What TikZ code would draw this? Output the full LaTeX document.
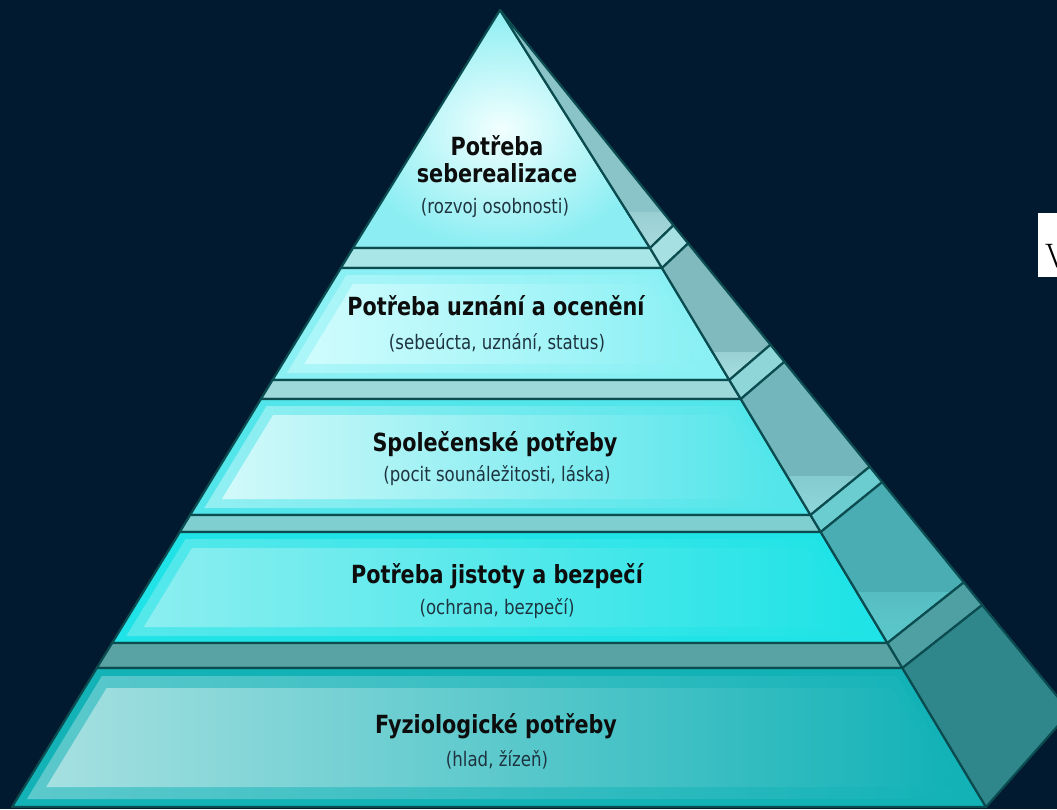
\documentclass[tikz,border=0pt]{standalone}
\usepackage{fontspec}
\newfontfamily\pyrfont{DejaVu Sans}[FakeStretch=0.83]

\definecolor{pozadi}{HTML}{021A2F}
\definecolor{obrys}{HTML}{0B4C50}
\definecolor{nadpiscol}{HTML}{0D0D0D}
\definecolor{popiscol}{HTML}{1E3440}
% celni steny
\definecolor{vrchol1}{HTML}{F2FFFF}
\definecolor{cela1}{HTML}{8CEEF2}
\definecolor{cela2}{HTML}{8AF0F4}
\definecolor{zare2}{HTML}{CFFCFD}
\definecolor{cela3}{HTML}{52E5EA}
\definecolor{zare3}{HTML}{D2F9FA}
\definecolor{cela4}{HTML}{1FE3E6}
\definecolor{zare4}{HTML}{8CEEF0}
\definecolor{cela5}{HTML}{12B2B7}
\definecolor{zare5}{HTML}{A6E0E1}
% rimsy
\definecolor{rimsa2}{HTML}{A8E6E8}
\definecolor{rimsa3}{HTML}{9DD8DA}
\definecolor{rimsa4}{HTML}{80CFD0}
\definecolor{rimsa5}{HTML}{5AA3A5}
\definecolor{rimsabok2}{HTML}{A6E0E2}
\definecolor{rimsabok3}{HTML}{8FD6D9}
\definecolor{rimsabok4}{HTML}{6CCDD0}
\definecolor{rimsabok5}{HTML}{4FA0A3}
% boky
\definecolor{bok1}{HTML}{8AC4C8}
\definecolor{bok2}{HTML}{80B9BE}
\definecolor{bok3}{HTML}{73B6BC}
\definecolor{bok4}{HTML}{4AADB3}
\definecolor{bok5}{HTML}{2F878B}
\definecolor{lesk1}{HTML}{A8DADD}
\definecolor{lesk2}{HTML}{A8E0E2}
\definecolor{lesk3}{HTML}{8FD8DC}
\definecolor{lesk4}{HTML}{5DC9CD}

\begin{document}
\begin{tikzpicture}[x=1pt,y=-1pt,
  kontura/.style={draw=obrys,line width=2.2pt,line join=round},
  nadpis/.style={anchor=base,inner sep=0pt,text=nadpiscol,
    font=\pyrfont\bfseries\fontsize{25}{27}\selectfont},
  popis/.style={anchor=base,inner sep=0pt,text=popiscol,
    font=\pyrfont\fontsize{20}{24}\selectfont}]
  \useasboundingbox (0,0) rectangle (1057,809);
  \clip (0,0) rectangle (1057,809);
  %pozadi
  	\fill[pozadi] (0,0) rectangle (1057,809);

  %vrstva 1 (spicka)
	\shade[inner color=vrchol1,outer color=cela1] (500,10) -- (650,248) -- (353,248) -- cycle;
	\draw[kontura] (500,10) -- (650,248) -- (353,248) -- cycle;
	\fill[bok1] (500,10) -- (673.5,225.3) -- (650,248) -- cycle;
	\begin{scope}
	  \clip (500,10) -- (673.5,225.3) -- (650,248) -- cycle;
	  \shade[top color=lesk1!50!bok1,bottom color=lesk1] (600,212) rectangle (700,250);
	\end{scope}
	\draw[kontura] (500,10) -- (673.5,225.3) -- (650,248) -- cycle;

  %rimsa 2
	\filldraw[kontura,fill=rimsa2] (353,248) -- (650,248) -- (662,268) -- (340.8,268) -- cycle;
	\filldraw[kontura,fill=rimsabok2] (650,248) -- (673.5,225.3) -- (688.2,243.4) -- (662,268) -- cycle;

  %vrstva 2
	\filldraw[kontura,fill=cela2] (340.8,268) -- (662,268) -- (729.3,380) -- (272.5,380) -- cycle;
	\shade[left color=zare2!50!cela2,right color=cela2] (346.5,275) -- (656.2,275) -- (715.1,373) -- (286.8,373) -- cycle;
	\shade[left color=zare2,right color=cela2] (353,284) -- (649.6,284) -- (697.7,364) -- (304.2,364) -- cycle;
	\fill[bok2] (662,268) -- (688.2,243.4) -- (770.5,344.7) -- (729.3,380) -- cycle;
	\begin{scope}
	  \clip (662,268) -- (688.2,243.4) -- (770.5,344.7) -- (729.3,380) -- cycle;
	  \shade[top color=lesk2!60!bok2,bottom color=lesk2] (650,352) rectangle (790,382);
	\end{scope}
	\draw[kontura] (662,268) -- (688.2,243.4) -- (770.5,344.7) -- (729.3,380) -- cycle;

  %rimsa 3
	\filldraw[kontura,fill=rimsa3] (272.5,380) -- (729.3,380) -- (740.8,399) -- (260.9,399) -- cycle;
	\filldraw[kontura,fill=rimsabok3] (729.3,380) -- (770.5,344.7) -- (784.4,361.8) -- (740.8,399) -- cycle;

  %vrstva 3
	\filldraw[kontura,fill=cela3] (260.9,399) -- (740.8,399) -- (810.5,515) -- (190.1,515) -- cycle;
	\shade[left color=zare3!50!cela3,right color=cela3] (266.6,406) -- (735,406) -- (796.3,508) -- (204.4,508) -- cycle;
	\shade[left color=zare3,right color=cela3] (273.1,415) -- (728.4,415) -- (778.9,499) -- (221.9,499) -- cycle;
	\fill[bok3] (740.8,399) -- (784.4,361.8) -- (869.7,466.7) -- (810.5,515) -- cycle;
	\begin{scope}
	  \clip (740.8,399) -- (784.4,361.8) -- (869.7,466.7) -- (810.5,515) -- cycle;
	  \shade[top color=lesk3!60!bok3,bottom color=lesk3] (730,476) rectangle (880,517);
	\end{scope}
	\draw[kontura] (740.8,399) -- (784.4,361.8) -- (869.7,466.7) -- (810.5,515) -- cycle;

  %rimsa 4
	\filldraw[kontura,fill=rimsa4] (190.1,515) -- (810.5,515) -- (820.7,532) -- (179.8,532) -- cycle;
	\filldraw[kontura,fill=rimsabok4] (810.5,515) -- (869.7,466.7) -- (882.2,482.1) -- (820.7,532) -- cycle;

  %vrstva 4
	\filldraw[kontura,fill=cela4] (179.8,532) -- (820.7,532) -- (887.4,643) -- (112.1,643) -- cycle;
	\shade[left color=zare4!50!cela4,middle color=cela4,right color=cela4] (185.5,539) -- (814.9,539) -- (873.2,636) -- (126.3,636) -- cycle;
	\shade[left color=zare4,middle color=cela4,right color=cela4] (192,548) -- (808.3,548) -- (855.8,627) -- (143.8,627) -- cycle;
	\fill[bok4] (820.7,532) -- (882.2,482.1) -- (963.8,582.4) -- (887.4,643) -- cycle;
	\begin{scope}
	  \clip (820.7,532) -- (882.2,482.1) -- (963.8,582.4) -- (887.4,643) -- cycle;
	  \shade[top color=lesk4!60!bok4,bottom color=lesk4] (810,592) rectangle (980,645);
	\end{scope}
	\draw[kontura] (820.7,532) -- (882.2,482.1) -- (963.8,582.4) -- (887.4,643) -- cycle;

  %rimsa 5
	\filldraw[kontura,fill=rimsa5] (112.1,643) -- (887.4,643) -- (902.4,668) -- (96.8,668) -- cycle;
	\filldraw[kontura,fill=rimsabok5] (887.4,643) -- (963.8,582.4) -- (982.2,605) -- (902.4,668) -- cycle;

  %vrstva 5
	\filldraw[kontura,fill=cela5] (96.8,668) -- (902.4,668) -- (986,807) -- (12,807) -- cycle;
	\shade[left color=zare5!50!cela5,middle color=cela5,right color=cela5] (101.9,676) -- (897.2,676) -- (971.2,799) -- (26.9,799) -- cycle;
	\shade[left color=zare5,middle color=cela5,right color=cela5] (106.6,688) -- (892.4,688) -- (951.9,787) -- (46.2,787) -- cycle;
	\filldraw[kontura,fill=bok5] (902.4,668) -- (982.2,605) -- (1070,712) -- (986,807) -- cycle;

  %texty
	\node[nadpis,align=center] (t1) at (497,182) {Potřeba\\seberealizace};
	\node[popis] (p1) at (495,213) {(rozvoj osobnosti)};
	\node[nadpis] (t2) at (496,315) {Potřeba uznání a ocenění};
	\node[popis] (p2) at (497,349) {(sebeúcta, uznání, status)};
	\node[nadpis] (t3) at (495,451) {Společenské potřeby};
	\node[popis] (p3) at (497,481) {(pocit sounáležitosti, láska)};
	\node[nadpis] (t4) at (497,583) {Potřeba jistoty a bezpečí};
	\node[popis] (p4) at (497,614) {(ochrana, bezpečí)};
	\node[nadpis] (t5) at (496,733) {Fyziologické potřeby};
	\node[popis] (p5) at (497,766) {(hlad, žízeň)};

  %bily ramecek vpravo
	\fill[white] (1038,213) rectangle (1057,277);
	\node[anchor=base west,inner sep=0pt,font=\fontsize{34}{34}\selectfont] (znak) at (1045,267) {V};
\end{tikzpicture}
\end{document}
